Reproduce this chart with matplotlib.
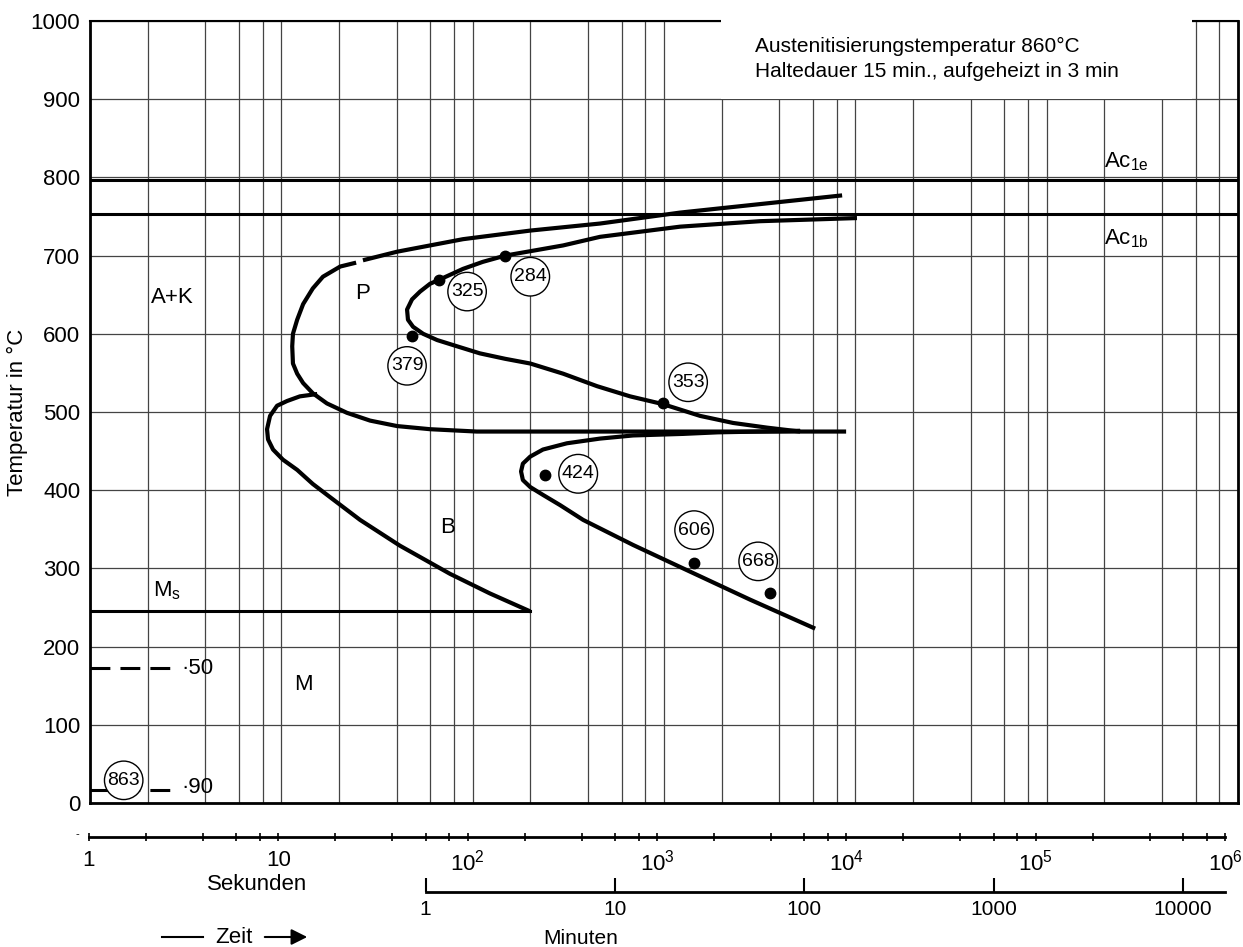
import matplotlib.pyplot as plt
from matplotlib.patches import Rectangle
from matplotlib.lines import Line2D
from matplotlib.ticker import LogLocator, FixedLocator, NullFormatter, NullLocator

plt.rcParams['font.family'] = ['Liberation Sans', 'DejaVu Sans']
plt.rcParams['mathtext.fontset'] = 'custom'
plt.rcParams['mathtext.rm'] = 'Liberation Sans'
plt.rcParams['mathtext.it'] = 'Liberation Sans:italic'
plt.rcParams['mathtext.default'] = 'regular'

# time in s, temperature in degC
# pearlite start (upper part, left of the small break)
ps1_t = [8530, 1213, 463, 200, 89, 40.3, 26.7]
ps1_T = [777, 755, 741, 732, 721, 705, 694]
# pearlite start (lower part) running into the horizontal line
ps2_t = [24.6, 20.3, 16.5, 14.6, 13.0, 12.1, 11.5, 11.4, 11.5, 12.1, 13.0, 14.6,
         17.3, 22.0, 29.1, 40.3, 59.9, 105, 8950]
ps2_T = [691, 686, 673, 658, 638, 618, 600, 584, 562, 549, 537, 524,
         511, 499, 489, 482, 478, 475, 475]
# bainite start
bs_t = [15.4, 12.5, 10.7, 9.5, 8.73, 8.42, 8.52, 9.05, 10.2, 12.1, 14.6, 18.0,
        25.8, 41.7, 76.2, 123, 200]
bs_T = [523, 520, 514, 508, 495, 478, 465, 452, 439, 426, 408, 391,
        362, 329, 293, 268, 245]
# pearlite end
pe_t = [10200, 3177, 1213, 463, 297, 148, 113, 89, 66.7, 59.9, 53.1, 48.2, 45.4, 45.9,
        48.8, 55.1, 65.2, 82.9, 109, 148, 200, 297, 447, 665, 989, 1545, 2296, 3457, 5146]
pe_T = [748, 744, 737, 724, 713, 700, 692, 683, 669, 664, 654, 644, 631, 618,
        609, 600, 592, 584, 575, 568, 562, 549, 533, 520, 510, 495, 486, 480, 475]
# bainite end
be_t = [5146, 1912, 1259, 689, 463, 311, 233, 200, 183, 179, 183, 200, 233, 286,
        378, 689, 1259, 2820, 6166]
be_T = [476, 474, 472, 470, 466, 460, 452, 443, 434, 424, 413, 404, 394, 381,
        362, 330, 300, 260, 223]

ac1e = 797
ac1b = 753
ms = 245
m50 = 172
m90 = 17
m_end = 2.68

dots_t = [48.2, 66.7, 148, 989, 239, 1436, 3589]
dots_T = [597, 669, 700, 511, 419, 307, 268]

circ_lbl = ['379', '325', '284', '353', '424', '606', '668', '863']
circ_t = [45.4, 93.5, 200, 1337, 356, 1436, 3105, 1.5]
circ_T = [559, 654, 673, 538, 421, 349, 309, 29]

sec_ticks = [1, 10, 1e2, 1e3, 1e4, 1e5, 1e6]
sec_labels = ['1', '10', r'$10^{2}$', r'$10^{3}$', r'$10^{4}$', r'$10^{5}$', r'$10^{6}$']
min_ticks = [1, 10, 100, 1000, 10000]

W, H = 1243, 947
fig = plt.figure(figsize=(W / 100, H / 100), dpi=100)
ax = fig.add_axes([90 / W, 1 - 803 / H, (1238 - 90) / W, (803 - 21) / H])
ax.set_xscale('log')
ax.set_xlim(1, 1e6)
ax.set_ylim(0, 1000)
ax.set_axisbelow(True)

ax.xaxis.set_major_locator(LogLocator(base=10, numticks=10))
ax.xaxis.set_minor_locator(LogLocator(base=10, subs=(2, 4, 6, 8), numticks=20))
ax.xaxis.set_major_formatter(NullFormatter())
ax.xaxis.set_minor_formatter(NullFormatter())
ax.set_yticks(range(0, 1001, 100))
ax.tick_params(axis='both', which='both', length=0)
ax.tick_params(axis='y', labelsize=16, pad=7)
ax.grid(True, which='both', axis='x', color='#444444', lw=0.9)
ax.grid(True, which='major', axis='y', color='#444444', lw=0.9)
for side in ['left', 'bottom', 'right']:
    ax.spines[side].set_linewidth(2)
ax.spines['top'].set_linewidth(1.5)
ax.set_ylabel('Temperatur in °C', fontsize=16, labelpad=2)

lw = 3
ax.axhline(ac1e, color='k', lw=2.2)
ax.axhline(ac1b, color='k', lw=2.2)
ax.plot([1, bs_t[-1]], [ms, ms], color='k', lw=2.2)
ax.plot([1, m_end], [m50, m50], color='k', lw=2.2, ls=(0, (6.5, 3.3)))
ax.plot([1, m_end], [m90, m90], color='k', lw=2.2, ls=(0, (6.5, 3.3)))

for t, T in [(ps1_t, ps1_T), (ps2_t, ps2_T), (bs_t, bs_T), (pe_t, pe_T), (be_t, be_T)]:
    ax.plot(t, T, color='k', lw=lw, solid_capstyle='butt', solid_joinstyle='round')

ax.plot(dots_t, dots_T, 'o', color='k', ms=7.5)
for lbl, t, T in zip(circ_lbl, circ_t, circ_T):
    ax.text(t, T, lbl, fontsize=14, ha='center', va='center', zorder=5,
            bbox=dict(boxstyle='circle,pad=0.15', fc='white', ec='k', lw=1))

ax.text(m_end * 1.12, m50, '·50', fontsize=16, ha='left', va='center')
ax.text(m_end * 1.12, m90 + 3, '·90', fontsize=16, ha='left', va='center')

ax.text(2.68, 647, 'A+K', fontsize=16, ha='center', va='center')
ax.text(26.7, 652, 'P', fontsize=16, ha='center', va='center')
ax.text(74.3, 352, 'B', fontsize=16, ha='center', va='center')
ax.text(13.0, 152, 'M', fontsize=16, ha='center', va='center')
ax.text(2.13, 271, r'$M_s$', fontsize=16, ha='left', va='center')
ax.text(2.0e5, 820, r'$Ac_{1e}$', fontsize=16, ha='left', va='center')
ax.text(2.0e5, 722, r'$Ac_{1b}$', fontsize=16, ha='left', va='center')

ax.add_patch(Rectangle((1988, 900), 576800 - 1988, 115, fc='white', ec='none',
                       zorder=2.6, clip_on=False))
ax.text(2993, 967, 'Austenitisierungstemperatur 860°C', fontsize=15,
        ha='left', va='center', zorder=3)
ax.text(2993, 936, 'Haltedauer 15 min., aufgeheizt in 3 min', fontsize=15,
        ha='left', va='center', zorder=3)

# seconds axis
ax_s = fig.add_axes([89 / W, 1 - 837 / H, (1225 - 89) / W, 0.0005])
ax_s.set_xscale('log')
ax_s.set_xlim(1, 1e6)
ax_s.patch.set_visible(False)
for side in ['left', 'right', 'top']:
    ax_s.spines[side].set_visible(False)
ax_s.spines['bottom'].set_linewidth(2)
ax_s.yaxis.set_major_locator(NullLocator())
ax_s.xaxis.set_major_locator(FixedLocator(sec_ticks))
ax_s.set_xticklabels(sec_labels)
ax_s.xaxis.set_minor_locator(LogLocator(base=10, subs=(2, 4, 6, 8), numticks=20))
ax_s.xaxis.set_minor_formatter(NullFormatter())
ax_s.tick_params(axis='x', which='both', direction='inout', length=6, width=1.2,
                 labelsize=16, pad=6)

# minutes axis
ax_m = fig.add_axes([89 / W, 1 - 892 / H, (1225 - 89) / W, 0.0005])
ax_m.set_xscale('log')
ax_m.set_xlim(1, 1e6)
ax_m.patch.set_visible(False)
for side in ['left', 'right', 'top']:
    ax_m.spines[side].set_visible(False)
ax_m.spines['bottom'].set_linewidth(2)
ax_m.spines['bottom'].set_bounds(min_ticks[0] * 60, 1e6)
ax_m.yaxis.set_major_locator(NullLocator())
ax_m.xaxis.set_major_locator(FixedLocator([m * 60 for m in min_ticks]))
ax_m.set_xticklabels([str(m) for m in min_ticks])
ax_m.xaxis.set_minor_locator(NullLocator())
ax_m.tick_params(axis='x', direction='in', length=10, width=1.5, labelsize=15, pad=6)

fig.text(257 / W, 1 - 884 / H, 'Sekunden', fontsize=16, ha='center', va='center')
fig.text(581 / W, 1 - 938 / H, 'Minuten', fontsize=15, ha='center', va='center')
fig.text(234 / W, 1 - 937 / H, 'Zeit', fontsize=16, ha='center', va='center')
fig.text(77 / W, 1 - 834 / H, '-', fontsize=8, ha='center', va='center')
fig.add_artist(Line2D([162 / W, 203 / W], [1 - 937 / H, 1 - 937 / H],
                      transform=fig.transFigure, color='k', lw=1.5))
ax.annotate('', xy=(310 / W, 1 - 937 / H), xytext=(262 / W, 1 - 937 / H),
            xycoords='figure fraction', textcoords='figure fraction',
            arrowprops=dict(arrowstyle='-|>', lw=1.5, color='k', mutation_scale=24))

fig.savefig('out.png', dpi=100)
